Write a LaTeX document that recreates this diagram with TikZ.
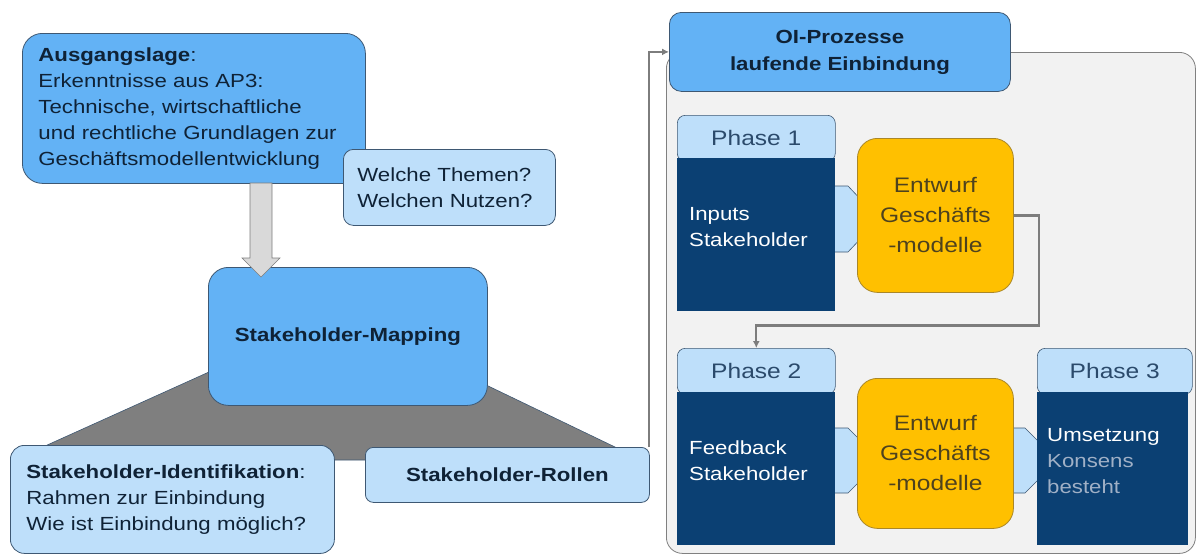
\documentclass[tikz,border=0pt]{standalone}
\usepackage{fontspec}
\setmainfont{Liberation Sans}[FakeStretch=1.17]
\usetikzlibrary{arrows.meta}
\definecolor{midblue}{RGB}{99,178,245}
\definecolor{lightblue}{RGB}{190,223,250}
\definecolor{navy}{RGB}{11,64,115}
\definecolor{yel}{RGB}{255,192,0}
\definecolor{yelborder}{RGB}{170,135,40}
\definecolor{bordc}{RGB}{62,88,115}
\definecolor{textdark}{RGB}{15,34,54}
\definecolor{phasetext}{RGB}{43,74,107}
\definecolor{entwurftext}{RGB}{78,66,30}
\definecolor{kg}{RGB}{160,176,198}
\definecolor{contfill}{RGB}{242,242,242}
\definecolor{contborder}{RGB}{128,128,128}
\definecolor{trapfill}{RGB}{127,127,127}
\definecolor{arrfill}{RGB}{217,217,217}
\definecolor{connc}{RGB}{125,125,125}
\begin{document}
\begin{tikzpicture}[x=1pt,y=-1pt,
  font=\fontsize{19}{26}\selectfont,
  midbox/.style={draw=bordc, fill=midblue, line width=0.8pt, text=textdark, inner sep=0pt},
  lightbox/.style={draw=bordc, fill=lightblue, line width=0.8pt, text=textdark, inner sep=0pt},
  hdrbox/.style={draw=bordc, fill=lightblue, line width=0.6pt, rounded corners=8pt, text=phasetext,
    font=\fontsize{21}{26}\selectfont, minimum height=46pt, inner sep=0pt, anchor=north west},
  bodybox/.style={fill=navy, text=white, inner xsep=12pt, inner ysep=0pt, align=left, minimum height=153pt, anchor=north west},
  yelbox/.style={draw=yelborder, fill=yel, line width=0.8pt, rounded corners=20pt, text=entwurftext,
    font=\fontsize{21}{30}\selectfont, align=center, inner sep=0pt, anchor=north west, minimum width=156pt},
  chev/.style={draw=bordc, fill=lightblue, line width=0.6pt},
  conn/.style={draw=connc, line width=2pt},
]
\useasboundingbox (0,0) rectangle (1197,555);

% ---------- left part ----------
\node[midbox, rounded corners=20pt, anchor=north west, minimum height=150pt, text width=311pt,
  inner xsep=16pt, align=left] (aus) at (22,33)
  {\textbf{Ausgangslage}:\\Erkenntnisse aus AP3:\\Technische, wirtschaftliche\\und rechtliche Grundlagen zur\\Geschäftsmodellentwicklung};

\node[lightbox, rounded corners=10pt, anchor=north west, minimum height=76pt, text width=184pt,
  inner xsep=14pt, align=left] (welche) at (343,149)
  {Welche Themen?\\Welchen Nutzen?};

% grey trapezoid behind mapping
\fill[trapfill, draw=bordc, line width=0.6pt] (14,460) -- (240,358) -- (430,358) -- (642,460) -- cycle;

\node[midbox, rounded corners=20pt, anchor=north west, minimum width=279pt, minimum height=138pt,
  font=\fontsize{19}{26}\selectfont\bfseries] (map) at (208,267) {Stakeholder-Mapping};

% block arrow from Ausgangslage to Mapping
\draw[fill=arrfill, draw=connc, line width=0.6pt]
  (250,183) -- (272,183) -- (272,258) -- (280,258) -- (261,277) -- (242,258) -- (250,258) -- cycle;

\node[lightbox, rounded corners=14pt, anchor=north west, minimum height=108pt, text width=292pt,
  inner xsep=16pt, align=left] (ident) at (10,445)
  {\textbf{Stakeholder-Identifikation}:\\Rahmen zur Einbindung\\Wie ist Einbindung möglich?};

\node[lightbox, rounded corners=8pt, anchor=north west, minimum width=284pt, minimum height=55pt,
  font=\fontsize{19}{26}\selectfont\bfseries] (rol) at (365,447) {Stakeholder-Rollen};

% ---------- right part ----------
\node[draw=contborder, fill=contfill, line width=0.8pt, rounded corners=16pt, anchor=north west,
  minimum width=529pt, minimum height=501pt, inner sep=0pt] (cont) at (666,52) {};

\node[midbox, rounded corners=12pt, anchor=north west, minimum width=341pt, minimum height=79pt,
  align=center, font=\fontsize{19}{27}\selectfont\bfseries] (oi) at (669,12)
  {OI-Prozesse\\laufende Einbindung};

\draw[conn, line width=1.6pt, -{Latex[length=7pt,width=7pt]}] ([xshift=-1pt]rol.north east) |- (oi.west);

% Phase 1
\node[hdrbox, minimum width=158pt] (ph1) at (677,115) {Phase 1};
\path[chev] (833,186) -- (848,186) -- (866,205) -- (866,233) -- (848,252) -- (833,252) -- cycle;
\node[bodybox, text width=134pt] (b1) at (677,158) {Inputs\\Stakeholder\\[-10pt]\mbox{}};
\node[yelbox, minimum height=154pt] (e1) at (857,138) {Entwurf\\Geschäfts\\-modelle};

% Phase 2
\node[hdrbox, minimum width=158pt] (ph2) at (677,348) {Phase 2};
\path[chev] (833,428) -- (848,428) -- (866,446) -- (866,475) -- (848,493) -- (833,493) -- cycle;
\path[chev] (1010,428) -- (1025,428) -- (1043,446) -- (1043,475) -- (1025,493) -- (1010,493) -- cycle;
\node[bodybox, text width=134pt] (b2) at (677,392) {Feedback\\Stakeholder\\[-10pt]\mbox{}};
\node[yelbox, minimum height=150pt] (e2) at (857,378) {Entwurf\\Geschäfts\\-modelle};

% Phase 3
\node[hdrbox, minimum width=155pt] (ph3) at (1037,348) {Phase 3};
\node[bodybox, text width=131pt, inner xsep=10pt] (b3) at (1037,392)
  {Umsetzung\\\textcolor{kg}{Konsens}\\\textcolor{kg}{besteht}\\[-10pt]\mbox{}};

% connector Phase 1 -> Phase 2
\draw[conn, line width=2.2pt, -{Latex[length=7pt,width=7pt]}]
  (e1.east) -- ++(25,0) -- ++(0,110) -| (ph2.north);
\end{tikzpicture}
\end{document}
